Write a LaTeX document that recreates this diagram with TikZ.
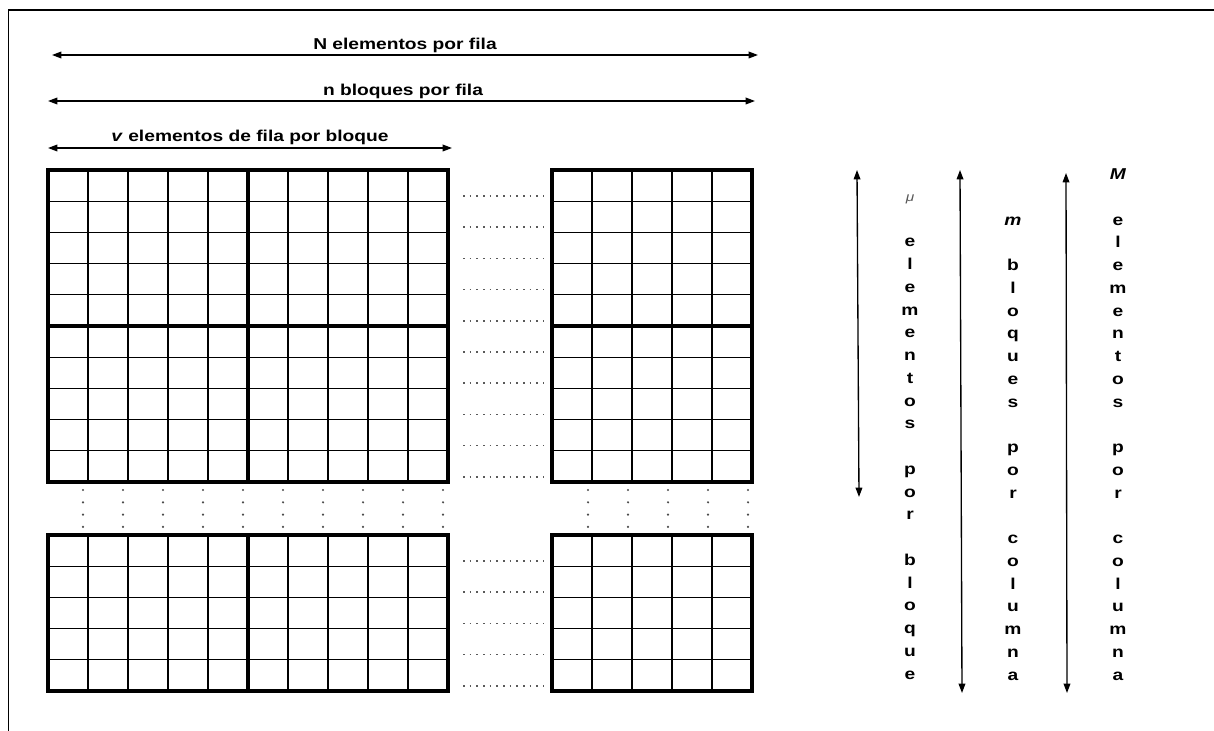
\documentclass[tikz,border=0pt]{standalone}
\usepackage{fontspec}
\setmainfont{Liberation Sans}[FakeStretch=1.22]
\usetikzlibrary{arrows.meta, positioning}

% one block of 5x5 cells, top left corner at (#1,#2)
\newcommand{\matblock}[2]{%
  \foreach \k in {1,...,4} {
    \draw[cell] ({#1+40*\k},#2) -- ++(0,156);
    \draw[cell] (#1,{#2+31.2*\k}) -- ++(200,0);
  }
  \draw[blockline] (#1,#2) rectangle ++(200,156);
}

\begin{document}
\begin{tikzpicture}[x=0.75pt, y=-0.75pt,
        cell/.style={line width=1pt},
        blockline/.style={line width=2.4pt},
        arr/.style={{Triangle[length=7pt,width=5pt]}-{Triangle[length=7pt,width=5pt]}, line width=1pt},
        lbl/.style={font=\fontsize{11.8}{14}\selectfont\bfseries, anchor=base, inner sep=0pt},
        vlbl/.style={font=\fontsize{11.8}{17.06}\selectfont\bfseries, align=center, anchor=base, inner sep=0pt},
        hdots/.style={black!65, line width=1.2pt, dash pattern=on 1.3pt off 3.7pt}
    ]
    \useasboundingbox (0,0) rectangle (1214,731);

    % frame
    \draw[line width=1.1pt] (1214,10) -- (8.5,10) -- (8.5,731);

    % Row arrows
    \coordinate (nElemL) at (52,55);
    \coordinate (nElemR) at (758,55);
    \coordinate (nBlqL) at (48,101);
    \coordinate (nBlqR) at (755,101);
    \coordinate (vElemL) at (48,148);
    \coordinate (vElemR) at (452,148);
    \draw[arr] (nElemL) -- (nElemR);
    \draw[arr] (nBlqL) -- (nBlqR);
    \draw[arr] (vElemL) -- (vElemR);
    \node[lbl] (nElemText) at (405,50) {N elementos por fila};
    \node[lbl] (nBlqText) at (403,96) {n bloques por fila};
    \node[lbl] (vElemText) at (250,142) {\textit{v} elementos de fila por bloque};

    % Blocks
    \matblock{48}{170}
    \matblock{248}{170}
    \matblock{48}{326}
    \matblock{248}{326}
    \matblock{552}{170}
    \matblock{552}{326}
    \matblock{48}{535}
    \matblock{248}{535}
    \matblock{552}{535}

    % Dots between blocks
    \foreach \r in {0,...,9}
        \draw[hdots] (463,{196+31.2*\r}) -- (544,{196+31.2*\r});
    \foreach \r in {0,...,4}
        \draw[hdots] (463,{561+31.2*\r}) -- (544,{561+31.2*\r});
    \foreach \c in {1,...,10}
        \foreach \d in {0,...,3}
            \fill[black!70] ({43+40*\c},{490+12.3*\d}) circle (0.9pt);
    \foreach \c in {1,...,5}
        \foreach \d in {0,...,3}
            \fill[black!70] ({548+40*\c},{490+12.3*\d}) circle (0.9pt);

    % Column arrows
    \coordinate (muTop) at (857,170);
    \coordinate (muBot) at (859,497);
    \coordinate (mBlqTop) at (960,170);
    \coordinate (mBlqBot) at (962,693);
    \coordinate (mElemTop) at (1066,173);
    \coordinate (mElemBot) at (1067,693);
    \draw[arr] (muTop) -- (muBot);
    \draw[arr] (mBlqTop) -- (mBlqBot);
    \draw[arr] (mElemTop) -- (mElemBot);

    \node[vlbl] (muText) at (910,679) {{\mdseries\itshape\fontsize{9.5}{17.06}\selectfont\color{black!65}μ}\\~\\e\\l\\e\\m\\e\\n\\t\\o\\s\\~\\p\\o\\r\\~\\b\\l\\o\\q\\u\\e};
    \node[vlbl] (mBlqText) at (1013,680) {\textit{m}\\~\\b\\l\\o\\q\\u\\e\\s\\~\\p\\o\\r\\~\\c\\o\\l\\u\\m\\n\\a};
    \node[vlbl] (mElemText) at (1118,680) {\textit{M}\\~\\e\\l\\e\\m\\e\\n\\t\\o\\s\\~\\p\\o\\r\\~\\c\\o\\l\\u\\m\\n\\a};
\end{tikzpicture}
\end{document}
